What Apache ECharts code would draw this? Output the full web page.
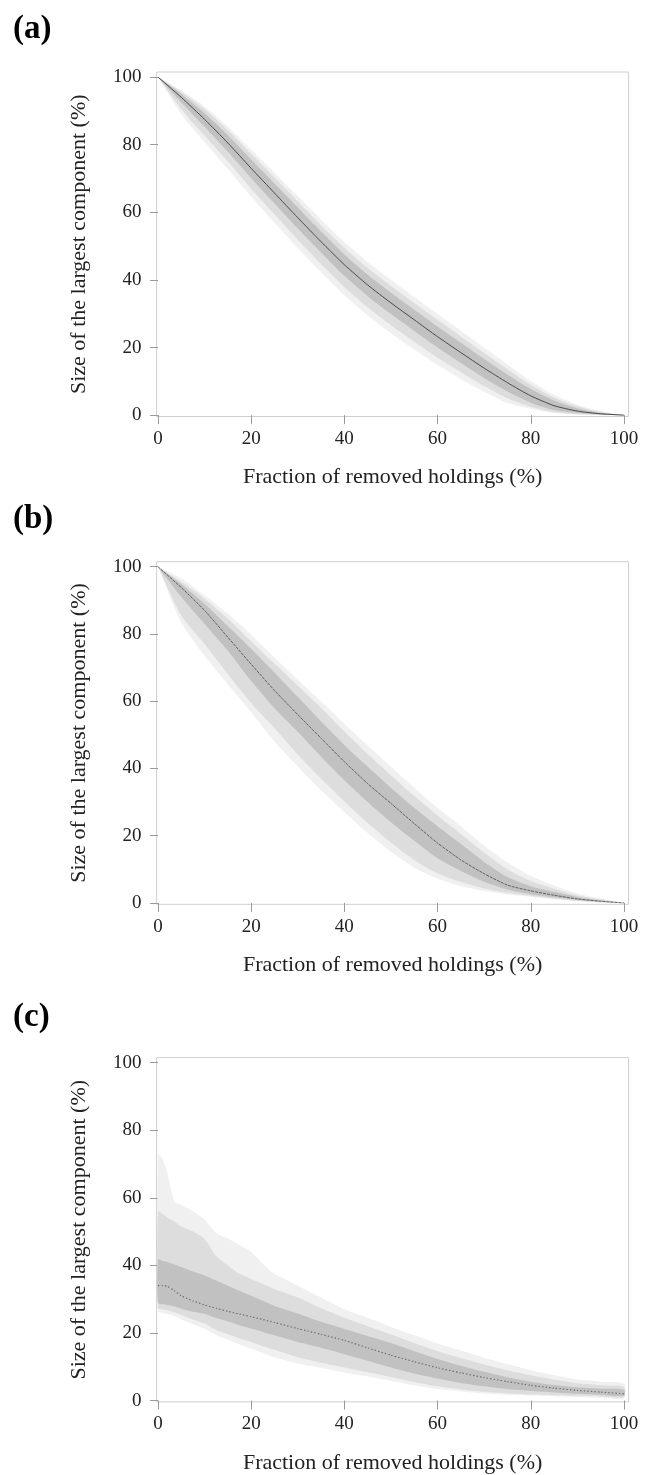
<!DOCTYPE html>
<html><head><meta charset="utf-8">
<script src="https://cdn.jsdelivr.net/npm/echarts@6/dist/echarts.min.js"></script>
<style>html,body{margin:0;padding:0;background:#fff}#c{width:649px;height:1475px}</style>
</head><body><div id="c"></div>
<script>
// ---- tick labels / text ----
const xTicks = [0, 20, 40, 60, 80, 100];
const yTicks = [0, 20, 40, 60, 80, 100];
const panelLabels = ['(a)', '(b)', '(c)'];
const xName = 'Fraction of removed holdings (%)';
const yName = 'Size of the largest component (%)';

// ---- panel (a) ----
const xA = [0,5,10,15,20,25,30,35,40,45,50,55,60,65,70,75,80,85,90,95,100];
const medA = [100,94,87.5,80.5,73,65.7,58.4,51.3,44.5,38.5,33.2,28.2,23.2,18.5,13.9,9.6,5.7,2.8,1.2,0.4,0];
const dkUA = [100,95,89.3,82.8,75.6,68.5,61.4,54.3,47.5,41.5,36.2,31.2,26.2,21.4,16.6,12,7.7,4.3,2.0,0.7,0];
const dkLA = [100,92.5,85.3,77.9,70.1,62.6,55.2,48.1,41.2,35.2,29.9,24.9,20,15.4,11,7,3.7,1.5,0.6,0.1,0];
const mdUA = [100,95.6,90.5,84.3,77.3,70.3,63.2,56.2,49.5,43.5,38.2,33.2,28.2,23.3,18.4,13.6,9,5.2,2.6,0.9,0];
const mdLA = [100,90.5,82.7,75,67,59.4,51.9,44.7,37.9,31.9,26.6,21.7,17,12.7,8.6,5,2.5,0.9,0.3,0.05,0];
const otUA = [100,96,91.3,85.3,78.5,71.7,64.8,57.9,51.2,45.3,40,35,29.9,25,20,15,10.1,6,3.1,1.2,0];
const otLA = [100,89,80.7,72.7,64.6,56.9,49.4,42.3,35.5,29.5,24.2,19.4,14.8,10.7,6.9,3.6,1.9,0.6,0.2,0,0];

// ---- panel (b) ----
const xB = [0,5,10,15,20,25,30,35,40,45,50,55,60,65,70,75,80,85,90,95,100];
const medB = [100,93.8,87,79,71,63.2,56,49,42,35.5,29.6,23.6,17.8,12.8,8.7,5.3,3.6,2.3,1.2,0.5,0];
const dkUB = [100,94.8,89,82.3,75.6,68.5,61.3,54,47,40.5,34.3,28.3,22.8,17.5,12.2,7.7,5,3.3,1.8,0.8,0];
const dkLB = [100,91,83,75,66,58,50.9,43.5,36.5,30,24,18.5,13.3,9.5,6.3,4,2.6,1.7,0.9,0.3,0];
const mdUB = [100,95.5,90.5,84.5,77.8,71.2,64.6,58,51,44.3,38,31.8,26,20.5,15,10,6.5,4.2,2.2,1.0,0];
const mdLB = [100,85.5,77,68,59.5,52,44.1,37,30.2,23.8,18,12.8,8.8,6.2,4.3,3,2.1,1.3,0.6,0.2,0];
const otUB = [100,96.5,91.5,86,79.8,73,66.4,60,53.3,46.8,40.5,34.3,28.3,22.8,17,12,8,5.2,2.8,1.3,0];
const otLB = [100,83.5,73.5,65,56.7,48,40.6,33.5,27,20.8,15.2,10.5,7.2,5,3.6,2.5,1.8,1.1,0.5,0.1,0];

// ---- panel (c) ----
const xC = [0,1,2,3.5,5,7.5,10,12.5,15,17.5,20,22.5,25,30,35,40,45,50,55,60,65,70,75,80,85,90,95,100];
const medC = [34,34,33.8,32.5,31,29.5,28.3,27.3,26.4,25.6,24.8,24,23.1,21.3,19.6,17.8,15.6,13.4,11.5,9.7,8.2,6.8,5.6,4.5,3.7,3,2.5,2];
const dkUC = [41.7,41.3,41,40.3,39.5,38.2,37,35.5,34,32.5,31,29.5,28,25.8,23.3,21.2,19.1,17,14.6,12.3,10.3,8.5,6.9,5.6,4.6,3.9,3.5,3.2];
const dkLC = [28.8,28.5,28.3,27.9,27.2,26.3,25.7,24.4,23.4,22.3,21.3,20.3,19.3,17.3,15.6,13.7,11.8,9.8,8,6.5,5.2,4.2,3.4,2.8,2.4,2,1.7,1.4];
const mdUC = [56,55.2,54.2,53,51.5,50,47.8,42.7,40,37.5,36,34.5,33,30.5,27.3,24.5,22,19.6,17,14.6,12.6,10.7,9,7.5,6.2,5.1,4.5,4];
const mdLC = [27.3,27,26.7,26.1,25.3,24,22.8,20.9,19.6,18.4,17.3,16.1,15,12.8,11.2,9.8,8.4,7,5.5,4.2,3.3,2.6,2.1,1.8,1.6,1.4,1.2,1];
const otUC = [72.9,71.4,67.4,58.8,57.8,56,53.5,49.6,48,46,44,40.5,37.5,34,30.5,27,24.5,21.8,19.3,16.9,14.8,12.7,10.8,9,7.5,6.3,5.6,5];
const otLC = [26.3,26,25.6,25,24,22.6,21.2,19.4,18,16.6,15.3,14.1,12.8,11,9.7,8.3,7.1,5.8,4.5,3.4,2.7,2.1,1.7,1.4,1.2,1,0.8,0.7];

const panels = [
  {x: xA, med: medA, otL: otLA, mdL: mdLA, dkL: dkLA, dkU: dkUA, mdU: mdUA, otU: otUA, lineType: 'solid', lineColor: '#4a4a4a', lineWidth: 1},
  {x: xB, med: medB, otL: otLB, mdL: mdLB, dkL: dkLB, dkU: dkUB, mdU: mdUB, otU: otUB, lineType: [3, 1], lineColor: '#555', lineWidth: 0.9},
  {x: xC, med: medC, otL: otLC, mdL: mdLC, dkL: dkLC, dkU: dkUC, mdU: mdUC, otU: otUC, lineType: [1.3, 2.2], lineColor: '#666', lineWidth: 1.2}
];

// layout (pixels)
const grids = [
  {left: 156.6, top: 72, width: 472, height: 344.5},
  {left: 156.6, top: 561.7, width: 472, height: 342.6},
  {left: 156.6, top: 1057.6, width: 472, height: 344.3}
];
const labelTops = [8, 498, 996];

const OUTER = '#f0f0f0', MID = '#dddddd', DARK = '#c1c1c1';
const FONT = 'Liberation Serif';

function bandSeries(i, xs, lo, hi, color, z) {
  return {
    type: 'custom',
    xAxisIndex: i, yAxisIndex: i,
    silent: true,
    clip: true,
    z: z,
    data: xs.map((xv, j) => [xv, lo[j], hi[j]]),
    encode: {x: 0, y: [1, 2]},
    renderItem: function (params, api) {
      if (params.dataIndex !== 0) return null;
      const pts = [];
      for (let j = 0; j < xs.length; j++) pts.push(api.coord([xs[j], hi[j]]));
      for (let j = xs.length - 1; j >= 0; j--) pts.push(api.coord([xs[j], lo[j]]));
      return {type: 'polygon', shape: {points: pts, smooth: 0.25}, style: {fill: color, stroke: null}};
    }
  };
}

const series = [];
panels.forEach((p, i) => {
  series.push(bandSeries(i, p.x, p.otL, p.otU, OUTER, 2));
  series.push(bandSeries(i, p.x, p.mdL, p.mdU, MID, 3));
  series.push(bandSeries(i, p.x, p.dkL, p.dkU, DARK, 4));
  series.push({
    type: 'line',
    xAxisIndex: i, yAxisIndex: i,
    symbol: 'none',
    silent: true,
    smooth: 0.2,
    lineStyle: {color: p.lineColor, width: p.lineWidth, type: p.lineType},
    data: p.x.map((xv, j) => [xv, p.med[j]]),
    z: 5
  });
});

const option = {
  backgroundColor: '#fff',
  animation: false,
  title: panelLabels.map((t, i) => ({
    text: t, left: 8, top: labelTops[i],
    textStyle: {fontFamily: FONT, fontWeight: 'bold', fontSize: 33, color: '#000'}
  })),
  grid: grids.map(g => Object.assign({show: true, borderColor: '#cfcfcf', borderWidth: 1, backgroundColor: 'transparent'}, g)),
  xAxis: grids.map((g, i) => ({
    type: 'value', gridIndex: i, min: -0.3, max: 101,
    axisLine: {show: false},
    splitLine: {show: false},
    axisTick: {show: true, customValues: xTicks, length: 9, lineStyle: {color: '#9a9a9a', width: 1}},
    axisLabel: {customValues: xTicks, margin: 13, fontSize: 19, fontFamily: FONT, color: '#222'},
    name: xName, nameLocation: 'middle', nameGap: 50,
    nameTextStyle: {fontSize: 22, fontFamily: FONT, color: '#222'}
  })),
  yAxis: grids.map((g, i) => ({
    type: 'value', gridIndex: i, min: -0.4, max: 101.5,
    axisLine: {show: false},
    splitLine: {show: false},
    axisTick: {show: true, customValues: yTicks, length: 8, lineStyle: {color: '#9a9a9a', width: 1}},
    axisLabel: {customValues: yTicks, margin: 15, fontSize: 19, fontFamily: FONT, color: '#222'},
    name: yName, nameLocation: 'middle', nameGap: 66, nameRotate: 90,
    nameTextStyle: {fontSize: 22, fontFamily: FONT, color: '#222'}
  })),
  series: series
};

const chart = echarts.init(document.getElementById('c'), null, {renderer: 'canvas'});
chart.setOption(option);
</script>
</body></html>
